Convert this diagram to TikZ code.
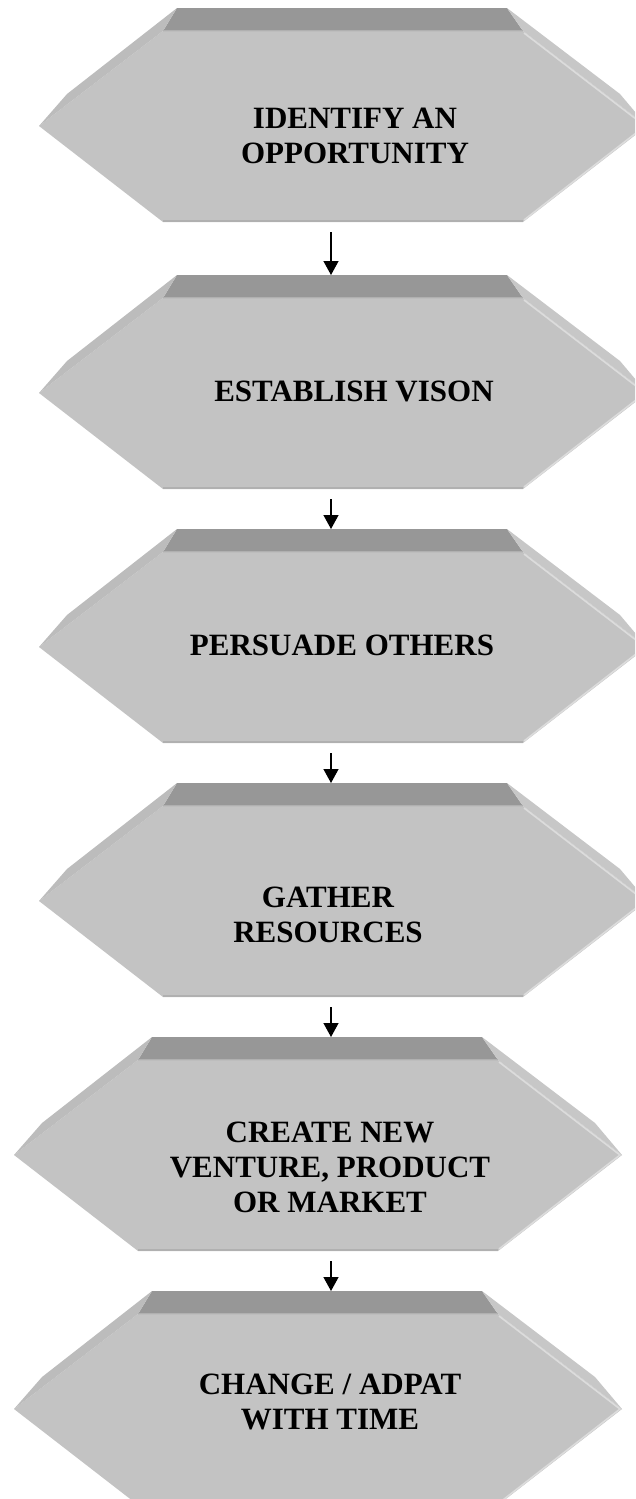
\documentclass[tikz,border=0pt]{standalone}
\usepackage{fontspec}
\setmainfont{Liberation Serif}
\usepackage{tikz}
\usetikzlibrary{arrows.meta}

\definecolor{faceGray}{RGB}{195,195,195}
\definecolor{topGray}{RGB}{151,151,151}
\definecolor{leftGray}{RGB}{188,188,188}
\definecolor{rightGray}{RGB}{199,199,199}
\definecolor{hiGray}{RGB}{220,220,220}
\definecolor{botGray}{RGB}{176,176,176}

\newcommand{\arrowx}{331}
% 3D hexagon: #1 name, #2 centre x, #3 top y
\newcommand{\hexstage}[3]{%
  \begin{scope}[shift={(#2,#3)}]
    \fill[faceGray] (-180,23) -- (180,23) -- (304,118) -- (180,214) -- (-180,214) -- (-304,118) -- cycle;
    \fill[topGray] (-166,0) -- (164,0) -- (180,23) -- (-180,23) -- cycle;
    \fill[leftGray] (-166,0) -- (-180,23) -- (-304,118) -- (-276,86) -- cycle;
    \fill[rightGray] (164,0) -- (277,86) -- (304,118) -- (180,23) -- cycle;
    \draw[hiGray, line width=1.6] (181,25) -- (302,118) -- (181,212);
    \draw[botGray, line width=2] (-180,213) -- (180,213);
    \draw[botGray, line width=1.2] (-180,22.5) -- (180,22.5);
  \end{scope}
  \coordinate (#1-t) at (\arrowx,#3);
  \coordinate (#1-b) at (\arrowx,#3+214);
}

\begin{document}
\begin{tikzpicture}[x=1pt, y=-1pt,
  stagetext/.style={align=center, inner sep=0pt, font=\bfseries\fontsize{31}{35}\selectfont},
  flow/.style={line width=1.3pt, shorten <=10pt, -{Triangle[width=15pt,length=14pt]}}]
\clip (0,0) rectangle (635,1499);
\hexstage{s1}{343}{8}
\hexstage{s2}{343}{275}
\hexstage{s3}{343}{529}
\hexstage{s4}{343}{783}
\hexstage{s5}{318}{1037}
\hexstage{s6}{318}{1291}
\node[stagetext] (ident) at (355,136) {IDENTIFY AN\\OPPORTUNITY};
\node[stagetext] (vision) at (354,391) {ESTABLISH VISON};
\node[stagetext] (persuade) at (342,645) {PERSUADE OTHERS};
\node[stagetext] (gather) at (328,915) {GATHER\\RESOURCES};
\node[stagetext] (create) at (330,1167) {CREATE NEW\\VENTURE, PRODUCT\\OR MARKET};
\node[stagetext] (adapt) at (330,1402) {CHANGE / ADPAT\\WITH TIME};
\draw[flow] (s1-b) -- (s2-t);
\draw[flow] (s2-b) -- (s3-t);
\draw[flow] (s3-b) -- (s4-t);
\draw[flow] (s4-b) -- (s5-t);
\draw[flow] (s5-b) -- (s6-t);
\end{tikzpicture}
\end{document}
